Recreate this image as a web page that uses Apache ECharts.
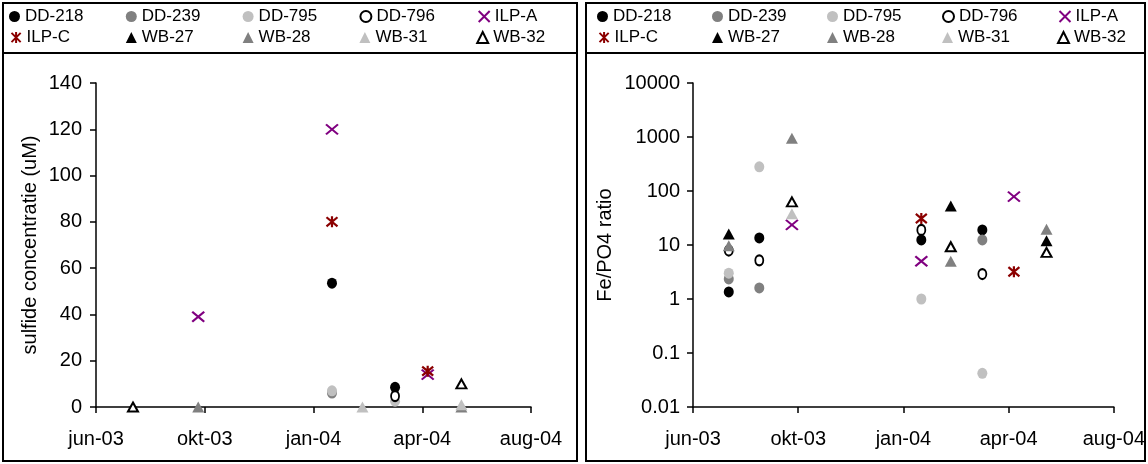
<!DOCTYPE html>
<html>
<head>
<meta charset="utf-8">
<script src="https://cdn.jsdelivr.net/npm/echarts@6/dist/echarts.min.js"></script>
<style>
html,body{margin:0;padding:0;background:#fff;}
#c{width:1148px;height:464px;}
</style>
</head>
<body>
<div id="c"></div>
<script>
// ---- data ----
const seriesNames = ['DD-218','DD-239','DD-795','DD-796','ILP-A','ILP-C','WB-27','WB-28','WB-31','WB-32'];
const sampleDates = ['2003-08-01','2003-08-30','2003-09-30','2004-01-31','2004-02-28','2004-03-29','2004-04-28','2004-05-29'];
const xTickLabels = ['jun-03','okt-03','jan-04','apr-04','aug-04'];
const leftYTicks = [0,20,40,60,80,100,120,140];
const rightYTicks = [0.01,0.1,1,10,100,1000,10000];

// sulfide concentratie (uM)
const sulfide_DD218 = [null,null,null,53.5,null,8.5,null,null];
const sulfide_DD239 = [null,null,null,6,null,null,null,null];
const sulfide_DD795 = [null,null,null,7,null,2.5,null,null];
const sulfide_DD796 = [null,null,null,null,null,4.7,null,null];
const sulfide_ILPA  = [null,null,39,120,null,null,14,null];
const sulfide_ILPC  = [null,null,null,80,null,null,15.5,null];
const sulfide_WB27  = [null,null,null,null,null,null,null,null];
const sulfide_WB28  = [null,null,0,null,null,null,null,0];
const sulfide_WB31  = [null,null,null,null,0,null,null,1];
const sulfide_WB32  = [0,null,null,null,null,null,null,10];

// Fe/PO4 ratio
const ratio_DD218 = [1.35,13.5,null,12.4,null,19,null,null];
const ratio_DD239 = [2.35,1.6,null,null,null,12.4,null,null];
const ratio_DD795 = [3.0,280,null,1.0,null,0.042,null,null];
const ratio_DD796 = [7.9,5.2,null,19,null,2.9,null,null];
const ratio_ILPA  = [null,null,23.5,5.0,null,null,79,null];
const ratio_ILPC  = [null,null,null,31,null,null,3.2,null];
const ratio_WB27  = [16,null,null,null,53,null,null,12];
const ratio_WB28  = [9.7,null,950,null,5.0,null,null,19.6];
const ratio_WB31  = [null,null,38,null,null,null,null,null];
const ratio_WB32  = [null,null,63,null,9.3,null,null,7.3];

const sulfideData = [sulfide_DD218,sulfide_DD239,sulfide_DD795,sulfide_DD796,sulfide_ILPA,sulfide_ILPC,sulfide_WB27,sulfide_WB28,sulfide_WB31,sulfide_WB32];
const ratioData = [ratio_DD218,ratio_DD239,ratio_DD795,ratio_DD796,ratio_ILPA,ratio_ILPC,ratio_WB27,ratio_WB28,ratio_WB31,ratio_WB32];

// ---- helpers ----
const EPOCH = Date.UTC(1899,11,30);
function toSerial(s){const p=s.split('-').map(Number);return (Date.UTC(p[0],p[1]-1,p[2])-EPOCH)/86400000;}
const MONTHS=['jan','feb','mrt','apr','mei','jun','jul','aug','sep','okt','nov','dec'];
function fmtDate(v){const d=new Date(EPOCH+v*86400000);return MONTHS[d.getUTCMonth()]+'-'+String(d.getUTCFullYear()).slice(2);}
const xSerials = sampleDates.map(toSerial);

const FONT = 'Liberation Sans, Arial, sans-serif';
const AXIS_FS = 20;
const X_PATH = 'path://M0,0L10,10M10,0L0,10';
const AST_PATH = 'path://M0,0L10,10M10,0L0,10M5,-1L5,11';
const styles = {
  'DD-218':{symbol:'circle',size:[10,11],item:{color:'#000000'}},
  'DD-239':{symbol:'circle',size:[10,11],item:{color:'#808080'}},
  'DD-795':{symbol:'circle',size:[10,11],item:{color:'#c0c0c0'}},
  'DD-796':{symbol:'circle',size:[8,10],item:{color:'#ffffff',borderColor:'#000000',borderWidth:2}},
  'ILP-A':{symbol:X_PATH,size:[12,10],item:{color:'none',borderColor:'#800080',borderWidth:2}},
  'ILP-C':{symbol:AST_PATH,size:[11,11],item:{color:'none',borderColor:'#8b0000',borderWidth:2.2}},
  'WB-27':{symbol:'triangle',size:[12,11],item:{color:'#000000'}},
  'WB-28':{symbol:'triangle',size:[12,11],item:{color:'#808080'}},
  'WB-31':{symbol:'triangle',size:[12,11],item:{color:'#c0c0c0'}},
  'WB-32':{symbol:'triangle',size:[10,9],item:{color:'#ffffff',borderColor:'#000000',borderWidth:2}}
};

function makeSeries(dataArrs, axisIdx){
  return seriesNames.map((n,i)=>({
    name:n, type:'scatter', xAxisIndex:axisIdx, yAxisIndex:axisIdx,
    symbol:styles[n].symbol, symbolSize:styles[n].size,
    itemStyle:Object.assign({opacity:1}, styles[n].item),
    data: xSerials.map((x,j)=>dataArrs[i][j]==null?null:[x,dataArrs[i][j]]).filter(d=>d),
    emphasis:{disabled:true}, animation:false
  }));
}

const axisLineStyle = {lineStyle:{color:'#000',width:1.5}};
function xAxis(gi){
  return {type:'value', gridIndex:gi, min:37800, max:38200, interval:100,
    axisLine:{show:true,onZero:false,...axisLineStyle},
    axisTick:{show:true,inside:false,length:6,lineStyle:{color:'#000',width:1.5}},
    axisLabel:{color:'#000',fontFamily:FONT,fontSize:AXIS_FS,margin:22,formatter:fmtDate},
    splitLine:{show:false}};
}

// one legend per entry so columns line up like the original
function legends(x0, stride){
  const out=[];
  seriesNames.forEach((n,i)=>{
    const row = Math.floor(i/5), col = i%5;
    out.push({left:x0+col*stride, top: row===0?8:29, data:[n],
      itemWidth:11,itemHeight:11,itemGap:0,padding:0,selectedMode:false,
      textStyle:{color:'#000',fontFamily:FONT,fontSize:17}});
  });
  return out;
}

const option = {
  backgroundColor:'#fff',
  animation:false,
  legend:[...legends(9,116.8), ...legends(597,115)],
  grid:[
    {left:96, top:83, width:435, height:324},
    {left:693, top:83, width:421, height:324}
  ],
  xAxis:[xAxis(0), xAxis(1)],
  yAxis:[
    {type:'value', gridIndex:0, min:leftYTicks[0], max:leftYTicks[leftYTicks.length-1], interval:20,
     name:'sulfide concentratie (uM)', nameLocation:'middle', nameGap:56,
     nameTextStyle:{color:'#000',fontFamily:FONT,fontSize:AXIS_FS},
     axisLine:{show:true,...axisLineStyle},
     axisTick:{show:true,length:6,lineStyle:{color:'#000',width:1.5}},
     axisLabel:{color:'#000',fontFamily:FONT,fontSize:AXIS_FS,margin:14},
     splitLine:{show:false}},
    {type:'log', gridIndex:1, logBase:10, min:rightYTicks[0], max:rightYTicks[rightYTicks.length-1],
     name:'Fe/PO4 ratio', nameLocation:'middle', nameGap:78,
     nameTextStyle:{color:'#000',fontFamily:FONT,fontSize:AXIS_FS},
     axisLine:{show:true,...axisLineStyle},
     axisTick:{show:true,length:6,lineStyle:{color:'#000',width:1.5}},
     axisLabel:{color:'#000',fontFamily:FONT,fontSize:AXIS_FS,margin:13,formatter:v=>String(+(+v).toPrecision(1))},
     minorTick:{show:false}, splitLine:{show:false}}
  ],
  graphic:[
    {type:'rect',shape:{x:3,y:3,width:574,height:458},style:{fill:'none',stroke:'#000',lineWidth:2},silent:true},
    {type:'line',shape:{x1:3,y1:53,x2:577,y2:53},style:{stroke:'#000',lineWidth:2},silent:true},
    {type:'rect',shape:{x:586,y:3,width:559,height:458},style:{fill:'none',stroke:'#000',lineWidth:2},silent:true},
    {type:'line',shape:{x1:586,y1:53,x2:1145,y2:53},style:{stroke:'#000',lineWidth:2},silent:true}
  ],
  series:[...makeSeries(sulfideData,0), ...makeSeries(ratioData,1)]
};

const chart = echarts.init(document.getElementById('c'), null, {renderer:'canvas'});
chart.setOption(option);
</script>
</body>
</html>
